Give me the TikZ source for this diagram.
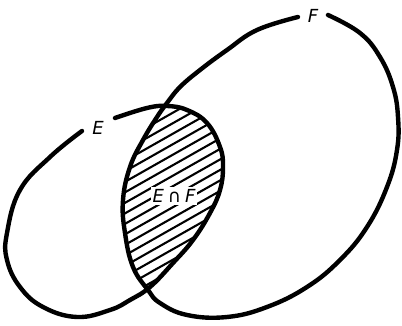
\documentclass[tikz,border=0pt]{standalone}
\usepackage{fontspec}
\newfontfamily\lblfont{DejaVu Sans}
\tikzset{
  outline/.style={line width=4.4pt, line cap=round, line join=round},
  hatchline/.style={line width=2.1pt, line cap=round},
  lbl/.style={font=\fontsize{18}{18}\selectfont\lblfont\itshape, inner sep=1pt},
}
\begin{document}
\begin{tikzpicture}[x=1pt,y=-1pt]
\useasboundingbox (0,0) rectangle (402,326);
% hatched intersection
\begin{scope}
  \clip plot[smooth cycle, tension=0.7] coordinates {(115,118) (147,108) (167,106) (187,110) (207,123) (220,147) (223,167) (220,190) (210,213) (193,240) (173,263) (150,287) (130,300) (110,310) (77,317) (43,307) (20,287) (7,260) (7,233) (20,190) (50,157) (82,131)};
  \clip plot[smooth cycle, tension=0.7] coordinates {(328,15) (360,33) (380,57) (393,87) (398,117) (397,150) (387,187) (367,227) (340,260) (307,287) (267,307) (227,317) (187,315) (160,303) (148,290) (133,267) (125,233) (123,200) (130,167) (143,140) (157,117) (167,103) (180,87) (200,70) (227,50) (257,30) (298,17)};
  \foreach \k in {0,...,28} {
    \draw[hatchline] (100,{112+10.5*\k}) -- (250,{112+10.5*\k-85});
  }
\end{scope}
\node[lbl, fill=white, inner sep=2pt] (lEF) at (174,196) {E\kern4pt∩\kern4pt F};
% outlines
\draw[outline] plot[smooth, tension=0.7] coordinates {(115,118) (147,108) (167,106) (187,110) (207,123) (220,147) (223,167) (220,190) (210,213) (193,240) (173,263) (150,287) (130,300) (110,310) (77,317) (43,307) (20,287) (7,260) (7,233) (20,190) (50,157) (82,131)};
\draw[outline] plot[smooth, tension=0.7] coordinates {(328,15) (360,33) (380,57) (393,87) (398,117) (397,150) (387,187) (367,227) (340,260) (307,287) (267,307) (227,317) (187,315) (160,303) (148,290) (133,267) (125,233) (123,200) (130,167) (143,140) (157,117) (167,103) (180,87) (200,70) (227,50) (257,30) (298,17)};
\node[lbl] (lE) at (98,128) {E};
\node[lbl] (lF) at (313,16) {F};
\end{tikzpicture}
\end{document}
